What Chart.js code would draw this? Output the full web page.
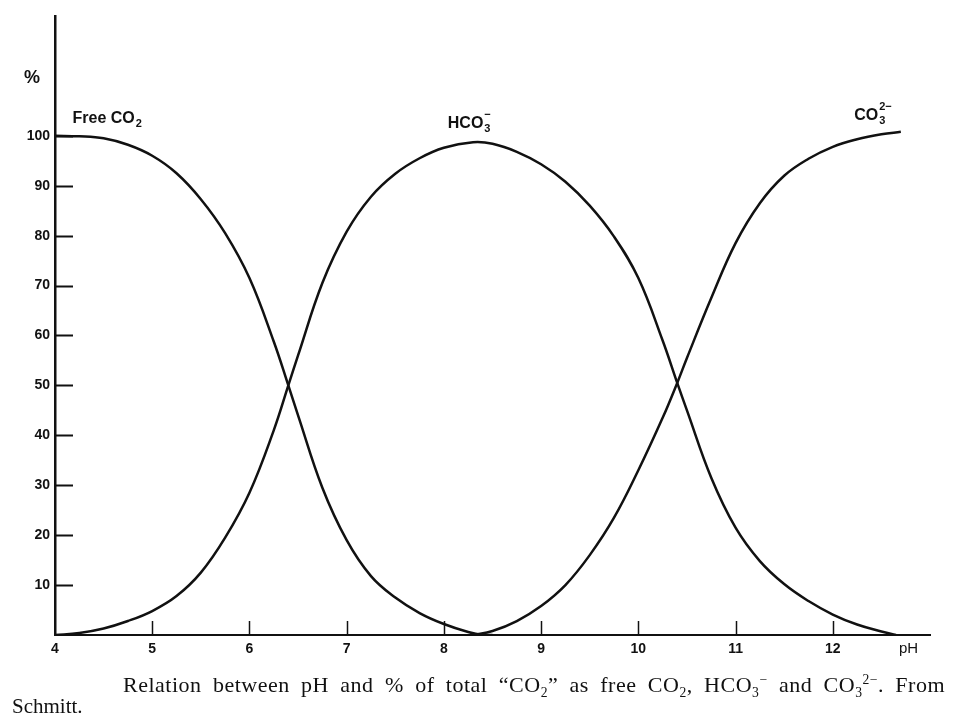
<!DOCTYPE html>
<html>
<head>
<meta charset="utf-8">
<script src="https://cdn.jsdelivr.net/npm/chart.js@4"></script>
<style>
  body { margin: 0; background: #fff; }
  #wrap { position: relative; width: 953px; height: 721px; }
  #cap1, #cap2 { position: absolute; font-family: "Liberation Serif", serif; font-size: 22px; line-height: 24px; color: #111; white-space: nowrap; }
  #cap1 { left: 123px; top: 673px; width: 822px; letter-spacing: 0.5px; text-align: justify; text-align-last: justify; }
  #cap2 { left: 12px; top: 694px; font-size: 21px; }
  sub, sup { font-size: 0.62em; line-height: 0; }
</style>
</head>
<body>
<div id="wrap">
  <canvas id="chart-co2"></canvas>
  <div id="cap1">Relation between pH and % of total “CO<sub>2</sub>” as free CO<sub>2</sub>, HCO<sub>3</sub><sup>−</sup> and CO<sub>3</sub><sup>2−</sup>. From</div>
  <div id="cap2">Schmitt.</div>
</div>
<script>
// values (pH vs % of total CO2)
const phFree = [4.0, 4.25, 4.5, 4.75, 5.0, 5.25, 5.5, 5.75, 6.0, 6.25, 6.4, 6.5, 6.75, 7.0, 7.25, 7.5, 7.75, 8.0, 8.25, 8.4, 8.5];
const freeCO2 = [100, 99.9, 99.5, 98.2, 96, 92.5, 87.3, 80.5, 71.5, 58.8, 50, 44, 29.5, 19, 11.8, 7.5, 4.4, 2.2, 0.6, 0, 0];

const phHCO3 = [4.0, 4.25, 4.5, 4.75, 5.0, 5.25, 5.5, 5.75, 6.0, 6.25, 6.4, 6.5, 6.75, 7.0, 7.25, 7.5, 7.75, 8.0, 8.3, 8.5, 8.75, 9.0, 9.25, 9.5, 9.75, 10.0, 10.25, 10.4, 10.5, 10.75, 11.0, 11.25, 11.5, 11.75, 12.0, 12.25, 12.5, 12.65];
const hco3 = [0, 0.4, 1.3, 2.8, 4.8, 7.8, 12.5, 19.5, 28.5, 41, 50, 56, 70.5, 80.8, 87.8, 92.4, 95.5, 97.6, 98.7, 98.4, 96.8, 94.3, 90.8, 86, 79.8, 71.5, 59, 50.5, 45, 31.5, 21.5, 14.8, 10.2, 6.8, 4.1, 2.1, 0.7, 0];

const phCO3 = [8.3, 8.5, 8.75, 9.0, 9.25, 9.5, 9.75, 10.0, 10.25, 10.4, 10.5, 10.75, 11.0, 11.25, 11.5, 11.75, 12.0, 12.25, 12.5, 12.7];
const co3 = [0, 0.8, 2.8, 5.8, 10, 16, 23.5, 33, 43.5, 50.5, 55.5, 67.5, 78.5, 86.5, 92, 95.4, 97.8, 99.3, 100.3, 100.8];

const yTickLabels = [10, 20, 30, 40, 50, 60, 70, 80, 90, 100];
const xTickLabels = [4, 5, 6, 7, 8, 9, 10, 11, 12];

const INK = '#111';

function pts(xs, ys) {
    return xs.map((x, i) => ({x: x, y: ys[i]}));
}

// formula label: main text, then subscript and superscript stacked after it
function chemLabel(ctx, x, y, main, sub, sup) {
    ctx.font = 'bold 16px "Liberation Sans"';
    ctx.fillText(main, x, y);
    const w = ctx.measureText(main).width;
    ctx.font = 'bold 11px "Liberation Sans"';
    if (sub) ctx.fillText(sub, x + w + 1, y + 4);
    if (sup) ctx.fillText(sup, x + w + 1, y - 10);
}

const decor = {
    id: 'decor',
    afterDraw(chart) {
        const ctx = chart.ctx;
        const xs = chart.scales.x, ys = chart.scales.y;
        const a = chart.chartArea;
        ctx.save();
        ctx.strokeStyle = INK;
        ctx.fillStyle = INK;
        // inward ticks on the % axis
        ctx.lineWidth = 2;
        yTickLabels.forEach(v => {
            const y = Math.round(ys.getPixelForValue(v)) + 0.5;
            ctx.beginPath();
            ctx.moveTo(a.left, y);
            ctx.lineTo(a.left + 18, y);
            ctx.stroke();
        });
        // upward ticks on the pH axis
        ctx.lineWidth = 1.5;
        xTickLabels.slice(1).forEach(v => {
            const x = Math.round(xs.getPixelForValue(v)) + 0.5;
            ctx.beginPath();
            ctx.moveTo(x, a.bottom);
            ctx.lineTo(x, a.bottom - 14);
            ctx.stroke();
        });
        ctx.textAlign = 'left';
        ctx.textBaseline = 'alphabetic';
        ctx.font = 'bold 18px "Liberation Sans"';
        ctx.fillText('%', 24, ys.getPixelForValue(110.5));
        ctx.font = '15px "Liberation Sans"';
        ctx.fillText('pH', xs.getPixelForValue(12.68), 653);
        chemLabel(ctx, xs.getPixelForValue(4.18), ys.getPixelForValue(102.6), 'Free CO', '2', '');
        chemLabel(ctx, xs.getPixelForValue(8.04), ys.getPixelForValue(101.6), 'HCO', '3', '−');
        chemLabel(ctx, xs.getPixelForValue(12.22), ys.getPixelForValue(103.2), 'CO', '3', '2−');
        ctx.restore();
    }
};

const line = (data) => ({
    data: data,
    borderColor: INK,
    borderWidth: 2.5,
    pointRadius: 0,
    fill: false,
    tension: 0.4
});

document.addEventListener('DOMContentLoaded', function() {
    const ctx = document.getElementById('chart-co2');
    new Chart(ctx, {
        type: 'line',
        data: {
            datasets: [
                line(pts(phFree, freeCO2)),
                line(pts(phHCO3, hco3)),
                line(pts(phCO3, co3))
            ]
        },
        options: {
            responsive: true,
            maintainAspectRatio: false,
            animation: false,
            layout: { padding: { top: 16, right: 23, left: 0, bottom: 0 } },
            plugins: {
                legend: { display: false },
                tooltip: { enabled: false }
            },
            scales: {
                x: {
                    type: 'linear',
                    min: 4,
                    max: 13,
                    afterFit: (s) => { s.height = 86; },
                    grid: { display: false, drawTicks: false },
                    border: { display: true, color: INK, width: 2 },
                    ticks: {
                        stepSize: 1,
                        maxRotation: 0,
                        padding: 6,
                        color: INK,
                        font: { family: 'Liberation Sans', size: 14, weight: 'bold' },
                        callback: (v) => xTickLabels.includes(v) ? String(v) : ''
                    }
                },
                y: {
                    min: 0,
                    max: 124,
                    afterFit: (s) => { s.width = 55; },
                    grid: { display: false, drawTicks: false },
                    border: { display: true, color: INK, width: 2.5 },
                    ticks: {
                        stepSize: 10,
                        padding: 5,
                        color: INK,
                        font: { family: 'Liberation Sans', size: 14, weight: 'bold' },
                        callback: (v) => yTickLabels.includes(v) ? String(v) : ''
                    }
                }
            }
        },
        plugins: [decor]
    });
});
</script>
</body>
</html>
